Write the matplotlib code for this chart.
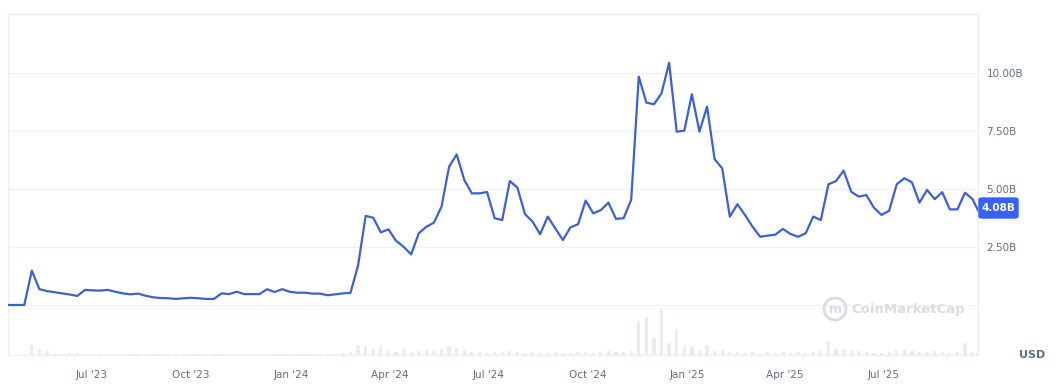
import numpy as np
import pandas as pd
import matplotlib
matplotlib.use("Agg")
import matplotlib.pyplot as plt
import matplotlib.dates as mdates
from matplotlib.patches import FancyBboxPatch, Ellipse

# weekly market cap (billions USD)
cap_b = [0.0, 0.0, 0.0, 1.48, 0.68, 0.60, 0.55, 0.50, 0.45, 0.39,
         0.65, 0.63, 0.62, 0.65, 0.57, 0.50, 0.46, 0.49, 0.40, 0.33,
         0.30, 0.29, 0.26, 0.29, 0.31, 0.29, 0.26, 0.26, 0.50, 0.47,
         0.57, 0.47, 0.47, 0.47, 0.68, 0.56, 0.68, 0.57, 0.53, 0.53,
         0.49, 0.49, 0.42, 0.46, 0.50, 0.52, 1.70, 3.84, 3.76, 3.13,
         3.26, 2.77, 2.51, 2.18, 3.09, 3.37, 3.55, 4.24, 5.96, 6.49,
         5.39, 4.81, 4.81, 4.87, 3.74, 3.66, 5.34, 5.06, 3.92, 3.59,
         3.05, 3.81, 3.30, 2.80, 3.35, 3.48, 4.50, 3.95, 4.09, 4.41,
         3.71, 3.74, 4.53, 9.84, 8.72, 8.65, 9.12, 10.44, 7.47, 7.51,
         9.08, 7.47, 8.55, 6.28, 5.89, 3.81, 4.34, 3.88, 3.37, 2.94,
         2.99, 3.03, 3.28, 3.06, 2.94, 3.09, 3.81, 3.66, 5.20, 5.34,
         5.79, 4.88, 4.67, 4.74, 4.19, 3.88, 4.06, 5.20, 5.46, 5.29,
         4.41, 4.96, 4.56, 4.86, 4.12, 4.12, 4.84, 4.56, 4.08]

# weekly volume (relative units)
volume = [0, 0, 0, 10, 6, 4, 1, 1, 2, 2,
          1, 1, 1, 1, 1, 1, 1, 1, 1, 1,
          1, 1, 1, 1, 1, 1, 1, 1, 1, 1,
          1, 1, 1, 1, 1, 1, 1, 1, 1, 1,
          1, 1, 1, 1, 2, 3, 10, 9, 6, 8,
          4, 3, 7, 3, 4, 5, 4, 6, 9, 7,
          5, 3, 3, 2, 3, 3, 4, 3, 2, 3,
          2, 2, 3, 2, 2, 3, 3, 2, 3, 4,
          3, 3, 4, 34, 38, 17, 47, 12, 25, 8,
          8, 5, 10, 4, 5, 3, 3, 2, 3, 2,
          3, 2, 3, 2, 3, 2, 3, 4, 14, 6,
          6, 5, 4, 3, 2, 2, 3, 5, 5, 4,
          3, 3, 4, 3, 2, 3, 12, 3, 2]

dates = list(pd.date_range("2023-04-16", periods=len(cap_b) - 1, freq="7D"))
dates.append(pd.Timestamp("2025-09-26"))
dates = pd.to_datetime(dates)

y_ticks = [2.5, 5.0, 7.5, 10.0]
line_color = "#3e60d0"
grid_color = "#eff1f4"
text_color = "#616e85"
mark_color = "#d9dde3"

fig = plt.figure(figsize=(10.6, 3.9), dpi=100)
ax = fig.add_axes([8 / 1060, 1 - 355 / 390, 970 / 1060, 341 / 390])

# volume bars on a twin axis, kept low
axv = ax.twinx()
axv.bar(dates, volume, width=3, color="#e9ecf0", zorder=1)
axv.set_ylim(0, max(volume) * 341 / 47)
axv.set_yticks([])
for s in axv.spines.values():
    s.set_visible(False)

ax.set_zorder(axv.get_zorder() + 1)
ax.patch.set_visible(False)

for v in [0] + y_ticks:
    ax.axhline(v, color=grid_color, lw=1, zorder=0)
ax.plot(dates, cap_b, color=line_color, lw=1.6, zorder=3)

ax.set_ylim(-2.155, 12.54)
ax.set_xlim(dates[0] - pd.Timedelta(days=1), dates[-1])

ax.yaxis.tick_right()
ax.set_yticks(y_ticks)
ax.set_yticklabels([f"{v:.2f}B" for v in y_ticks])
ax.tick_params(axis="y", length=0, pad=6, labelsize=7.5, labelcolor=text_color)

ax.xaxis.set_major_locator(mdates.MonthLocator(bymonth=[1, 4, 7, 10]))
ax.xaxis.set_major_formatter(mdates.DateFormatter("%b '%y"))
ax.tick_params(axis="x", length=0, pad=11, labelsize=7.5, labelcolor=text_color)

for s in ax.spines.values():
    s.set_color("#eceff2")
    s.set_linewidth(1)

# current value badge
fig.patches.append(FancyBboxPatch((979 / 1060, 1 - 218 / 390), 39 / 1060, 20 / 390,
                                  boxstyle="round,pad=0,rounding_size=0.004",
                                  transform=fig.transFigure, color="#3861fb", zorder=5))
fig.text(998.5 / 1060, 1 - 208 / 390, f"{cap_b[-1]:.2f}B", color="white", fontsize=7.5,
         fontweight="bold", ha="center", va="center", zorder=6)

fig.text(1045 / 1060, 1 - 355 / 390, "USD", color="#616e85", fontsize=8,
         fontweight="bold", ha="right", va="center")

# watermark
fig.patches.append(Ellipse((835 / 1060, 1 - 309 / 390), 22 / 1060, 22 / 390,
                           transform=fig.transFigure, fill=False, ec=mark_color, lw=2))
fig.text(835 / 1060, 1 - 309.5 / 390, "m", color=mark_color, fontsize=9, fontweight="bold",
         ha="center", va="center")
fig.text(851 / 1060, 1 - 309 / 390, "CoinMarketCap", color=mark_color, fontsize=9.5,
         fontweight="bold", ha="left", va="center")

fig.savefig("out.png", dpi=100, facecolor="white")
